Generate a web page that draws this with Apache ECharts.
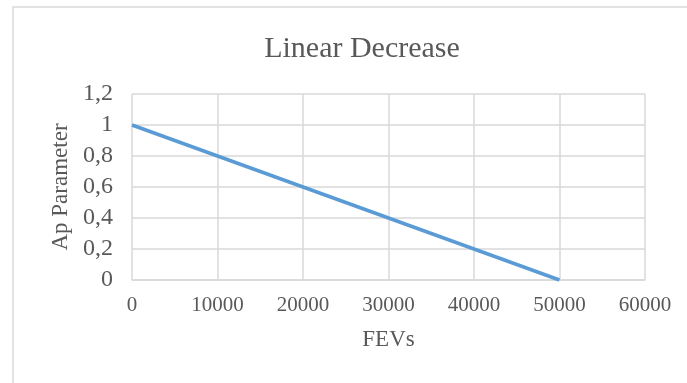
<!DOCTYPE html>
<html>
<head>
<meta charset="utf-8">
<script src="https://cdn.jsdelivr.net/npm/echarts@6/dist/echarts.min.js"></script>
<style>
html,body{margin:0;padding:0;background:#fff;}
#chart{width:687px;height:383px;}
</style>
</head>
<body>
<div id="chart"></div>
<script>
var titleText = 'Linear Decrease';
var xName = 'FEVs';
var yName = 'Ap Parameter';
var fevs = [0, 50000];
var apParam = [1, 0];
var xTicks = [0, 60000, 10000];
var yTicks = [0, 1.2, 0.2];

var font = '"Liberation Serif", "Times New Roman", serif';
var txt = '#595959';
var gridCol = '#d9d9d9';

var chart = echarts.init(document.getElementById('chart'), null, {renderer: 'canvas'});
chart.setOption({
  animation: false,
  backgroundColor: '#fff',
  textStyle: {fontFamily: font},
  graphic: [{
    type: 'rect',
    shape: {x: 13, y: 7, width: 700, height: 400},
    style: {fill: 'none', stroke: gridCol, lineWidth: 1.5},
    silent: true, z: -1
  }],
  title: {
    text: titleText,
    left: 357, top: 29, textAlign: 'center',
    textStyle: {fontFamily: font, fontSize: 30, fontWeight: 'normal', color: txt}
  },
  grid: {left: 132, right: 42, top: 94, bottom: 103},
  xAxis: {
    type: 'value',
    min: xTicks[0], max: xTicks[1], interval: xTicks[2],
    name: xName, nameLocation: 'middle', nameGap: 48,
    nameTextStyle: {fontFamily: font, fontSize: 23, color: txt},
    axisLine: {show: true, lineStyle: {color: gridCol, width: 1.5}},
    axisTick: {show: false},
    axisLabel: {
      fontFamily: font, fontSize: 21, color: txt, margin: 15,
      formatter: function (v) { return String(v); }
    },
    splitLine: {show: true, lineStyle: {color: gridCol, width: 1.5}}
  },
  yAxis: {
    type: 'value',
    min: yTicks[0], max: yTicks[1], interval: yTicks[2],
    name: yName, nameLocation: 'middle', nameGap: 60, nameRotate: 90,
    nameTextStyle: {fontFamily: font, fontSize: 23, color: txt},
    axisLine: {show: false},
    axisTick: {show: false},
    axisLabel: {
      fontFamily: font, fontSize: 24, color: txt, margin: 19,
      formatter: function (v) { return String(Math.round(v * 10) / 10).replace('.', ','); }
    },
    splitLine: {show: true, lineStyle: {color: gridCol, width: 1.5}}
  },
  series: [{
    type: 'line',
    data: fevs.map(function (x, i) { return [x, apParam[i]]; }),
    showSymbol: false,
    lineStyle: {color: '#5b9bd5', width: 3.5},
    itemStyle: {color: '#5b9bd5'}
  }]
});
</script>
</body>
</html>
